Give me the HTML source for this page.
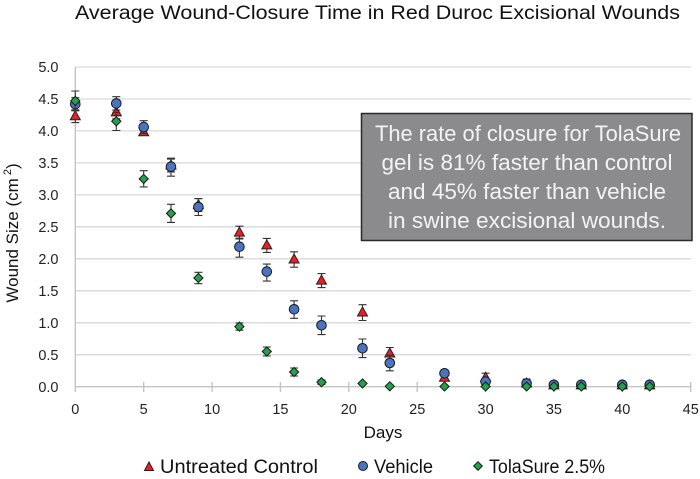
<!DOCTYPE html>
<html><head><meta charset="utf-8">
<style>
html,body{margin:0;padding:0;background:#fff;}
svg{display:block;}
text{font-family:"Liberation Sans",sans-serif;}
</style></head>
<body>
<svg width="700" height="479" viewBox="0 0 700 479" xmlns="http://www.w3.org/2000/svg">
<rect width="700" height="479" fill="#fff"/>
<!-- title -->
<text x="75" y="19" font-size="19" fill="#111" textLength="605" lengthAdjust="spacingAndGlyphs">Average Wound-Closure Time in Red Duroc Excisional Wounds</text>

<!-- gridlines -->
<g stroke="#d9d9d9" stroke-width="1.3">
<line x1="75" y1="67" x2="691" y2="67"/>
<line x1="75" y1="99" x2="691" y2="99"/>
<line x1="75" y1="130.9" x2="691" y2="130.9"/>
<line x1="75" y1="162.9" x2="691" y2="162.9"/>
<line x1="75" y1="194.9" x2="691" y2="194.9"/>
<line x1="75" y1="226.8" x2="691" y2="226.8"/>
<line x1="75" y1="258.8" x2="691" y2="258.8"/>
<line x1="75" y1="290.8" x2="691" y2="290.8"/>
<line x1="75" y1="322.8" x2="691" y2="322.8"/>
<line x1="75" y1="354.7" x2="691" y2="354.7"/>
</g>
<!-- axes -->
<g stroke="#c4c4c4" stroke-width="1.4">
<line x1="75.3" y1="67" x2="75.3" y2="392"/>
<line x1="75" y1="386.7" x2="691" y2="386.7"/>
<line x1="143.7" y1="382" x2="143.7" y2="392"/>
<line x1="212.1" y1="382" x2="212.1" y2="392"/>
<line x1="280.4" y1="382" x2="280.4" y2="392"/>
<line x1="348.8" y1="382" x2="348.8" y2="392"/>
<line x1="417.2" y1="382" x2="417.2" y2="392"/>
<line x1="485.6" y1="382" x2="485.6" y2="392"/>
<line x1="553.9" y1="382" x2="553.9" y2="392"/>
<line x1="622.3" y1="382" x2="622.3" y2="392"/>
<line x1="690.7" y1="382" x2="690.7" y2="392"/>
</g>

<!-- y tick labels -->
<g font-size="14.5" fill="#222" text-anchor="end">
<text x="58.5" y="72">5.0</text>
<text x="58.5" y="104">4.5</text>
<text x="58.5" y="136">4.0</text>
<text x="58.5" y="168">3.5</text>
<text x="58.5" y="200">3.0</text>
<text x="58.5" y="232">2.5</text>
<text x="58.5" y="264">2.0</text>
<text x="58.5" y="296">1.5</text>
<text x="58.5" y="328">1.0</text>
<text x="58.5" y="360">0.5</text>
<text x="58.5" y="392">0.0</text>
</g>
<!-- x tick labels -->
<g font-size="14.5" fill="#222" text-anchor="middle">
<text x="75.3" y="414">0</text>
<text x="143.7" y="414">5</text>
<text x="212.1" y="414">10</text>
<text x="280.4" y="414">15</text>
<text x="348.8" y="414">20</text>
<text x="417.2" y="414">25</text>
<text x="485.6" y="414">30</text>
<text x="553.9" y="414">35</text>
<text x="622.3" y="414">40</text>
<text x="690.7" y="414">45</text>
</g>

<!-- axis titles -->
<text x="383" y="438" font-size="17" fill="#111" text-anchor="middle">Days</text>
<text transform="translate(18,233) rotate(-90)" font-size="17" fill="#111" text-anchor="middle">Wound Size (cm<tspan font-size="11" dy="-7"> 2</tspan><tspan dy="7">)</tspan></text>

<!-- error bars: red -->
<g stroke="#333" stroke-width="1.1" fill="none">
<path d="M75.3 109.8V122.6M71.3 109.8h8M71.3 122.6h8"/>
<path d="M116.3 106V118.8M112.3 106h8M112.3 118.8h8"/>
<path d="M143.7 129V135.4M139.7 129h8M139.7 135.4h8"/>
<path d="M171 159.1V171.9M167 159.1h8M167 171.9h8"/>
<path d="M198.4 198.7V211.5M194.4 198.7h8M194.4 211.5h8"/>
<path d="M239.4 226.2V239M235.4 226.2h8M235.4 239h8"/>
<path d="M266.8 238.4V252.4M262.8 238.4h8M262.8 252.4h8"/>
<path d="M294.1 251.8V267.2M290.1 251.8h8M290.1 267.2h8"/>
<path d="M321.5 273.6V287.6M317.5 273.6h8M317.5 287.6h8"/>
<path d="M362.5 304.7V320.5M358.5 304.7h8M358.5 320.5h8"/>
<path d="M389.8 347.5V359.5M385.8 347.5h8M385.8 359.5h8"/>
<path d="M444.5 374.7V380.7M440.5 374.7h8M440.5 380.7h8"/>
<path d="M485.6 373.2V382.2M481.6 373.2h8M481.6 382.2h8"/>
<path d="M526.6 381.5V385.5M522.6 381.5h8M522.6 385.5h8"/>
</g>
<!-- red triangles -->
<g fill="#f01c24" stroke="#222" stroke-width="1">
<path transform="translate(75.3,116.2)" d="M0 -5.5L5 3.5L-5 3.5Z"/>
<path transform="translate(116.3,112.4)" d="M0 -5.5L5 3.5L-5 3.5Z"/>
<path transform="translate(143.7,132.2)" d="M0 -5.5L5 3.5L-5 3.5Z"/>
<path transform="translate(171,165.5)" d="M0 -5.5L5 3.5L-5 3.5Z"/>
<path transform="translate(198.4,205.1)" d="M0 -5.5L5 3.5L-5 3.5Z"/>
<path transform="translate(239.4,232.6)" d="M0 -5.5L5 3.5L-5 3.5Z"/>
<path transform="translate(266.8,245.4)" d="M0 -5.5L5 3.5L-5 3.5Z"/>
<path transform="translate(294.1,259.5)" d="M0 -5.5L5 3.5L-5 3.5Z"/>
<path transform="translate(321.5,280.6)" d="M0 -5.5L5 3.5L-5 3.5Z"/>
<path transform="translate(362.5,312.5)" d="M0 -5.5L5 3.5L-5 3.5Z"/>
<path transform="translate(389.8,353.5)" d="M0 -5.5L5 3.5L-5 3.5Z"/>
<path transform="translate(444.5,377.7)" d="M0 -5.5L5 3.5L-5 3.5Z"/>
<path transform="translate(485.6,377.7)" d="M0 -5.5L5 3.5L-5 3.5Z"/>
<path transform="translate(526.6,383.5)" d="M0 -5.5L5 3.5L-5 3.5Z"/>
<path transform="translate(553.9,385.4)" d="M0 -5.5L5 3.5L-5 3.5Z"/>
<path transform="translate(581.3,385.4)" d="M0 -5.5L5 3.5L-5 3.5Z"/>
<path transform="translate(622.3,385.4)" d="M0 -5.5L5 3.5L-5 3.5Z"/>
<path transform="translate(649.7,385.4)" d="M0 -5.5L5 3.5L-5 3.5Z"/>
</g>

<!-- error bars: blue -->
<g stroke="#333" stroke-width="1.1" fill="none">
<path d="M75.3 97.7V110.5M71.3 97.7h8M71.3 110.5h8"/>
<path d="M116.3 96.7V110.1M112.3 96.7h8M112.3 110.1h8"/>
<path d="M143.7 120.7V133.5M139.7 120.7h8M139.7 133.5h8"/>
<path d="M171 158.2V176.2M167 158.2h8M167 176.2h8"/>
<path d="M198.4 198.5V215.5M194.4 198.5h8M194.4 215.5h8"/>
<path d="M239.4 238.2V257.2M235.4 238.2h8M235.4 257.2h8"/>
<path d="M266.8 264.1V281.1M262.8 264.1h8M262.8 281.1h8"/>
<path d="M294.1 300.8V318.3M290.1 300.8h8M290.1 318.3h8"/>
<path d="M321.5 316V334.6M317.5 316h8M317.5 334.6h8"/>
<path d="M362.5 339V357.6M358.5 339h8M358.5 357.6h8"/>
<path d="M389.8 355.2V370.8M385.8 355.2h8M385.8 370.8h8"/>
<path d="M444.5 370.8V375.8M440.5 370.8h8M440.5 375.8h8"/>
<path d="M485.6 378.6V384.6M481.6 378.6h8M481.6 384.6h8"/>
<path d="M526.6 379V386M522.6 379h8"/>
</g>
<!-- blue circles -->
<g fill="#4a74c0" stroke="#1a1a1a" stroke-width="1">
<circle cx="75.3" cy="104.1" r="4.8"/>
<circle cx="116.3" cy="103.4" r="4.8"/>
<circle cx="143.7" cy="127.1" r="4.8"/>
<circle cx="171" cy="166.7" r="4.8"/>
<circle cx="198.4" cy="207" r="4.8"/>
<circle cx="239.4" cy="246.7" r="4.8"/>
<circle cx="266.8" cy="271.6" r="4.8"/>
<circle cx="294.1" cy="309.3" r="4.8"/>
<circle cx="321.5" cy="325.3" r="4.8"/>
<circle cx="362.5" cy="348.3" r="4.8"/>
<circle cx="389.8" cy="363" r="4.8"/>
<circle cx="444.5" cy="373.3" r="4.8"/>
<circle cx="485.6" cy="381.6" r="4.8"/>
<circle cx="526.6" cy="383.5" r="4.8"/>
<circle cx="553.9" cy="384.8" r="4.8"/>
<circle cx="581.3" cy="384.8" r="4.8"/>
<circle cx="622.3" cy="384.8" r="4.8"/>
<circle cx="649.7" cy="384.8" r="4.8"/>
</g>

<!-- error bars: green -->
<g stroke="#333" stroke-width="1.1" fill="none">
<path d="M75.3 91V110.8M71.3 91h8M71.3 110.8h8"/>
<path d="M116.3 112.3V130.5M112.3 112.3h8M112.3 130.5h8"/>
<path d="M143.7 170.7V186.9M139.7 170.7h8M139.7 186.9h8"/>
<path d="M171 204.3V222.4M167 204.3h8M167 222.4h8"/>
<path d="M198.4 272.3V283.7M194.4 272.3h8M194.4 283.7h8"/>
<path d="M239.4 323V330.2M235.4 323h8M235.4 330.2h8"/>
<path d="M266.8 347V356M262.8 347h8M262.8 356h8"/>
<path d="M294.1 368V376M290.1 368h8M290.1 376h8"/>
<path d="M321.5 380V384.4M317.5 380h8M317.5 384.4h8"/>
</g>
<!-- green diamonds -->
<g fill="#22a24a" stroke="#1a1a1a" stroke-width="1">
<path transform="translate(75.3,100.9)" d="M0 -4.6L4.6 0L0 4.6L-4.6 0Z"/>
<path transform="translate(116.3,121.3)" d="M0 -4.6L4.6 0L0 4.6L-4.6 0Z"/>
<path transform="translate(143.7,178.9)" d="M0 -4.6L4.6 0L0 4.6L-4.6 0Z"/>
<path transform="translate(171,213.4)" d="M0 -4.6L4.6 0L0 4.6L-4.6 0Z"/>
<path transform="translate(198.4,278)" d="M0 -4.6L4.6 0L0 4.6L-4.6 0Z"/>
<path transform="translate(239.4,326.6)" d="M0 -4.6L4.6 0L0 4.6L-4.6 0Z"/>
<path transform="translate(266.8,351.5)" d="M0 -4.6L4.6 0L0 4.6L-4.6 0Z"/>
<path transform="translate(294.1,372)" d="M0 -4.6L4.6 0L0 4.6L-4.6 0Z"/>
<path transform="translate(321.5,382.2)" d="M0 -4.6L4.6 0L0 4.6L-4.6 0Z"/>
<path transform="translate(362.5,383.5)" d="M0 -4.6L4.6 0L0 4.6L-4.6 0Z"/>
<path transform="translate(389.8,386.3)" d="M0 -4.6L4.6 0L0 4.6L-4.6 0Z"/>
<path transform="translate(444.5,386.5)" d="M0 -4.6L4.6 0L0 4.6L-4.6 0Z"/>
<path transform="translate(485.6,386.5)" d="M0 -4.6L4.6 0L0 4.6L-4.6 0Z"/>
<path transform="translate(526.6,386.5)" d="M0 -4.6L4.6 0L0 4.6L-4.6 0Z"/>
<path transform="translate(553.9,386.5)" d="M0 -4.6L4.6 0L0 4.6L-4.6 0Z"/>
<path transform="translate(581.3,386.5)" d="M0 -4.6L4.6 0L0 4.6L-4.6 0Z"/>
<path transform="translate(622.3,386.5)" d="M0 -4.6L4.6 0L0 4.6L-4.6 0Z"/>
<path transform="translate(649.7,386.5)" d="M0 -4.6L4.6 0L0 4.6L-4.6 0Z"/>
</g>

<!-- text box -->
<rect x="361.5" y="113.5" width="330.5" height="127" fill="#8b8b8d" stroke="#2a2a2a" stroke-width="1.5"/>
<g font-size="22" fill="#f3f3f3" text-anchor="middle">
<text x="528" y="141" textLength="306" lengthAdjust="spacingAndGlyphs">The rate of closure for TolaSure</text>
<text x="527" y="170" textLength="291" lengthAdjust="spacingAndGlyphs">gel is 81% faster than control</text>
<text x="527" y="199" textLength="278" lengthAdjust="spacingAndGlyphs">and 45% faster than vehicle</text>
<text x="527" y="228" textLength="278" lengthAdjust="spacingAndGlyphs">in swine excisional wounds.</text>
</g>

<!-- legend -->
<path transform="translate(149,467)" d="M0 -5L4.5 3.5L-4.5 3.5Z" fill="#f01c24" stroke="#222" stroke-width="1"/>
<text x="160" y="473" font-size="19" fill="#111" textLength="158" lengthAdjust="spacingAndGlyphs">Untreated Control</text>
<circle cx="363" cy="466" r="4.5" fill="#4a74c0" stroke="#1a1a1a" stroke-width="1"/>
<text x="374" y="473" font-size="19" fill="#111" textLength="59" lengthAdjust="spacingAndGlyphs">Vehicle</text>
<path transform="translate(478,466)" d="M0 -4.3L4.3 0L0 4.3L-4.3 0Z" fill="#22a24a" stroke="#1a1a1a" stroke-width="1"/>
<text x="489" y="473" font-size="19" fill="#111" textLength="116" lengthAdjust="spacingAndGlyphs">TolaSure 2.5%</text>
</svg>
</body></html>
